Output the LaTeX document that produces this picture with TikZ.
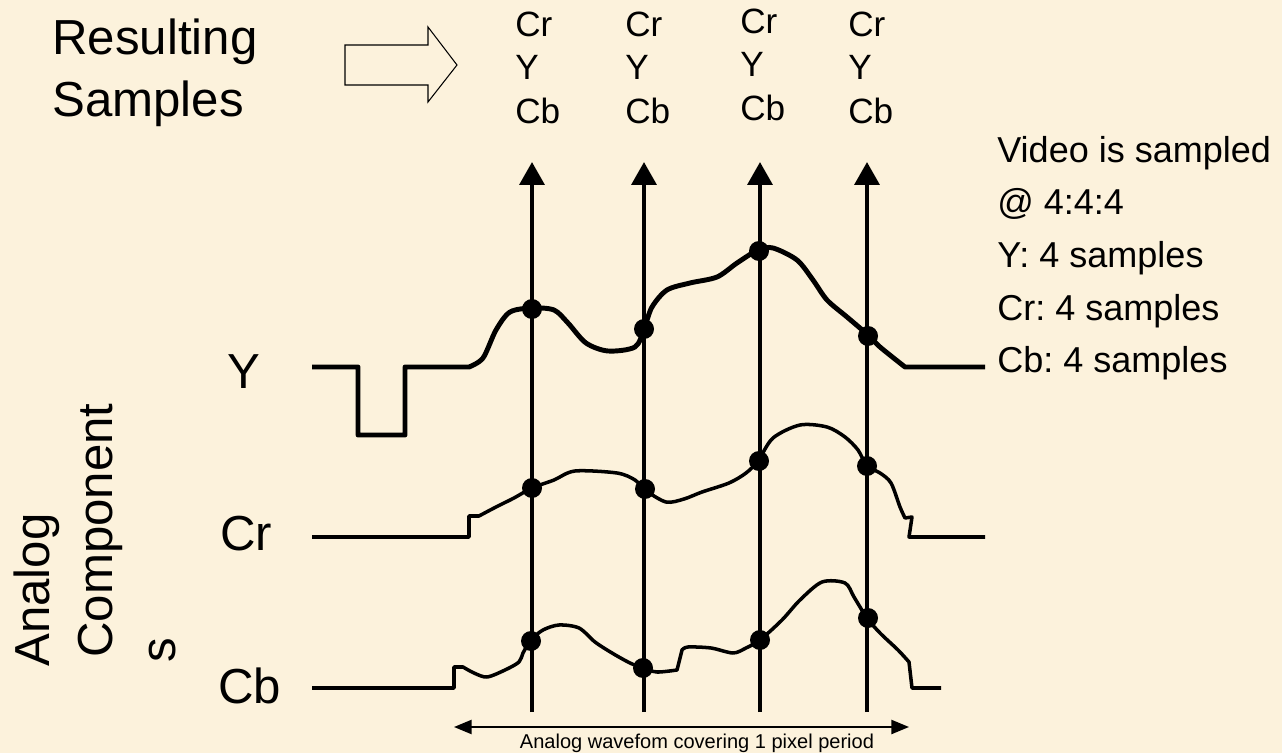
\documentclass[tikz,border=0pt]{standalone}
\usepackage{fontspec}
\setmainfont{Liberation Sans}
\usetikzlibrary{arrows.meta}
\definecolor{slidebg}{RGB}{252,242,220}
\frenchspacing

\begin{document}
\begin{tikzpicture}[x=0.02cm,y=-0.02cm,
    ywave/.style={line width=2.8pt, line join=round},
    cwave/.style={line width=2pt, line join=round},
    sampleline/.style={line width=2.4pt, -{Triangle[length=13pt,width=14pt]}},
    sampledot/.style={fill=black},
    biglabel/.style={font=\fontsize{28}{34}\selectfont, inner sep=0pt, anchor=base west},
    notelabel/.style={font=\fontsize{20.5}{25}\selectfont, inner sep=0pt, anchor=base west},
    collabel/.style={font=\fontsize{20}{24}\selectfont, inner sep=0pt, anchor=base west}]
  % background
  \fill[slidebg] (0,0) rectangle (1282,753);
  \useasboundingbox (0,0) rectangle (1282,753);

  % heading and hollow arrow
  \node[biglabel] (res) at (52,55) {Resulting};
  \node[biglabel] (smp) at (52,117) {Samples};
  \draw[line width=0.6pt, line join=miter] (345,45) -- (428,45) -- (428,27) -- (457,65)
    -- (428,102) -- (428,85) -- (345,85) -- cycle;

  % resulting samples per column
  \foreach \cx/\dy [count=\i] in {515/0, 625/0, 740/-3, 848/0} {
    \node[collabel] (cr\i) at (\cx,37+\dy) {Cr};
    \node[collabel] (y\i)  at (\cx,80+\dy) {Y};
    \node[collabel] (cb\i) at (\cx,124+\dy) {Cb};
  }

  % note on the right
  \node[notelabel] (n1) at (997,163) {Video is sampled};
  \node[notelabel] (n2) at (997,215) {@ 4:4:4};
  \node[notelabel] (n3) at (997,268) {Y: 4 samples};
  \node[notelabel] (n4) at (997,320) {Cr: 4 samples};
  \node[notelabel] (n5) at (997,373) {Cb: 4 samples};

  % component labels
  \node[biglabel] (ly)  at (227,388) {Y};
  \node[biglabel] (lcr) at (220,550) {Cr};
  \node[biglabel] (lcb) at (218,703) {Cb};
  \node[biglabel, rotate=90] (an1) at (50,667) {Analog};
  \node[biglabel, rotate=90] (an2) at (112,658) {Component};
  \node[biglabel, rotate=90] (an3) at (175,663) {s};

  % sampling instants
  \foreach \sx [count=\i] in {532,644,760,867} {
    \coordinate (bot\i) at (\sx,712);
    \coordinate (top\i) at (\sx,162);
    \draw[sampleline] (bot\i) -- (top\i);
  }

  % Y waveform
  \draw[ywave] (312,367) -- (358,367) -- (358,435) -- (405,435) -- (405,367) -- (469,367)
    -- plot[smooth, tension=0.5] coordinates {(469,367) (483,358) (496,330) (510,312)
      (532,308) (554,310) (568,323) (586,343) (608,351) (635,347) (644,329) (652,307)
      (667,290) (690,283) (717,277) (737,263) (758,250) (773,248) (797,260) (813,280)
      (827,300) (847,317) (868,335) (880,347) (905,367)} -- (985,367);

  % Cr waveform
  \draw[cwave] (312,537) -- (469,537) -- (469,516) -- (479,516)
    -- plot[smooth, tension=0.5] coordinates {(479,516) (496,507) (514,498) (532,488)
      (554,480) (575,471) (617,473) (635,480) (645,490) (666,502) (684,499) (702,492)
      (729,483) (746,473) (758,461) (773,438) (800,425) (827,427) (845,437) (858,450)
      (867,466) (880,473) (891,483) (900,507) (905,518)}
    -- (912,517) -- (909,537) -- (985,537);

  % Cb waveform
  \draw[cwave] (312,688) -- (454,688) -- (454,667) -- (463,667)
    -- plot[smooth, tension=0.5] coordinates {(463,667) (474,673) (487,677) (505,670)
      (519,662) (523,653) (531,640) (543,630) (559,625) (579,628) (595,642) (612,653)
      (630,663) (643,668) (657,672) (677,670)}
    -- plot[smooth, tension=0.5] coordinates {(682,650) (688,647) (711,648) (733,653)
      (746,648) (760,640) (782,620) (800,600) (822,582) (845,583) (854,597) (867,618)
      (880,633) (898,650) (909,662)}
    -- (912,688) -- (941,688);

  % samples
  \foreach \px/\py in {532/309, 644/329, 759/251, 868/336,
                       532/488, 645/489, 759/461, 867/466,
                       531/641, 643/668, 760/640, 868/618}
    \fill[sampledot] (\px,\py) circle [radius=10];

  % pixel period
  \coordinate (spanl) at (454,727);
  \coordinate (spanr) at (909,727);
  \draw[line width=1.1pt, {Triangle[length=10pt,width=8pt]}-{Triangle[length=10pt,width=8pt]}]
    (spanl) -- (spanr);
  \node[font=\fontsize{11.4}{13}\selectfont, inner sep=0pt, anchor=base] (per) at (697,748)
    {Analog wavefom covering 1 pixel period};
\end{tikzpicture}
\end{document}
